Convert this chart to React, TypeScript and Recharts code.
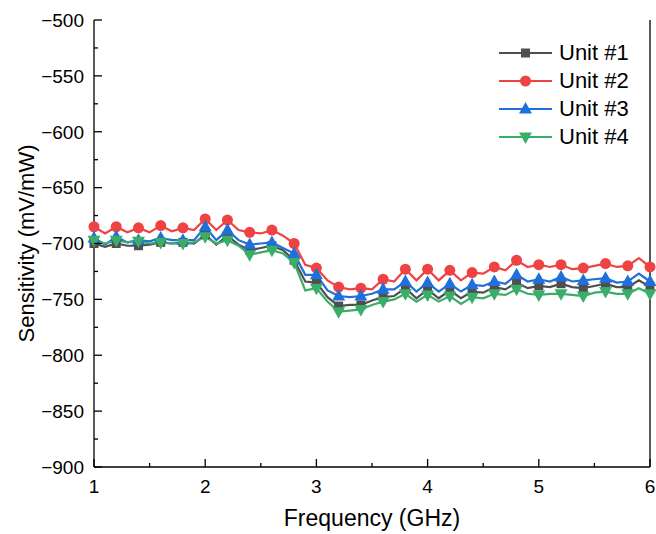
import React from 'react';
import { LineChart, Line, XAxis, YAxis, Legend, Label } from 'recharts';

const freq = [
  1.0, 1.1, 1.2, 1.3, 1.4, 1.5, 1.6, 1.7, 1.8, 1.9,
  2.0, 2.1, 2.2, 2.3, 2.4, 2.5, 2.6, 2.7, 2.8, 2.9,
  3.0, 3.1, 3.2, 3.3, 3.4, 3.5, 3.6, 3.7, 3.8, 3.9,
  4.0, 4.1, 4.2, 4.3, 4.4, 4.5, 4.6, 4.7, 4.8, 4.9,
  5.0, 5.1, 5.2, 5.3, 5.4, 5.5, 5.6, 5.7, 5.8, 5.9, 6.0,
];

const unit1 = [
  -700, -703, -700, -702, -702, -701, -699, -700, -699, -700,
  -692, -701, -693, -701, -706, -704, -702, -706, -715, -734,
  -735, -748, -756, -755, -755, -751, -748, -747, -740, -749,
  -741, -749, -742, -749, -743, -744, -739, -741, -735, -740,
  -738, -739, -736, -739, -740, -738, -736, -739, -739, -733, -739,
];

const unit2 = [
  -685, -691, -685, -690, -686, -690, -684, -689, -686, -688,
  -678, -688, -679, -688, -690, -691, -688, -693, -700, -719,
  -722, -733, -739, -741, -740, -741, -732, -734, -723, -733,
  -723, -733, -724, -733, -726, -727, -721, -724, -715, -721,
  -719, -721, -719, -723, -722, -720, -718, -721, -720, -713, -721,
];

const unit3 = [
  -695, -701, -694, -699, -697, -698, -695, -697, -697, -697,
  -685, -697, -688, -697, -701, -700, -699, -704, -709, -728,
  -728, -742, -747, -748, -747, -745, -741, -741, -734, -743,
  -735, -743, -736, -743, -737, -738, -734, -736, -728, -734,
  -732, -734, -730, -734, -733, -732, -731, -735, -734, -727, -734,
];

const unit4 = [
  -697, -700, -697, -699, -698, -700, -699, -700, -700, -699,
  -694, -700, -697, -702, -710, -708, -706, -709, -717, -742,
  -740, -752, -761, -760, -759, -755, -752, -750, -745, -752,
  -746, -752, -747, -754, -748, -749, -745, -746, -741, -745,
  -746, -745, -745, -746, -747, -744, -743, -745, -745, -740, -745,
];

const xTicks = [1, 1.5, 2, 2.5, 3, 3.5, 4, 4.5, 5, 5.5, 6];
const yTicks = [
  -900, -875, -850, -825, -800, -775, -750, -725, -700,
  -675, -650, -625, -600, -575, -550, -525, -500,
];

const series = [
  { key: 'u1', name: 'Unit #1', color: '#4f4f4f', shape: 'square' },
  { key: 'u2', name: 'Unit #2', color: '#ef4343', shape: 'circle' },
  { key: 'u3', name: 'Unit #3', color: '#1f6fdc', shape: 'up' },
  { key: 'u4', name: 'Unit #4', color: '#3aad69', shape: 'down' },
];

const data = freq.map((f, i) => ({ f, u1: unit1[i], u2: unit2[i], u3: unit3[i], u4: unit4[i] }));

const FONT = '"Liberation Sans", Arial, sans-serif';
const MAJOR = 8;
const MINOR = 4;

const fmt = (v: number) => (v < 0 ? '\u2212' + Math.abs(v) : String(v));

const Marker = ({ shape, cx, cy, color }: any) => {
  if (shape === 'square') return <rect x={cx - 4.5} y={cy - 4.5} width={9} height={9} fill={color} />;
  if (shape === 'circle') return <circle cx={cx} cy={cy} r={5.5} fill={color} />;
  if (shape === 'up')
    return <polygon points={`${cx},${cy - 7} ${cx - 6.5},${cy + 4.5} ${cx + 6.5},${cy + 4.5}`} fill={color} />;
  return <polygon points={`${cx},${cy + 7} ${cx - 6.5},${cy - 4.5} ${cx + 6.5},${cy - 4.5}`} fill={color} />;
};

const makeDot = (shape: string, color: string) => (p: any) => {
  if (p.index % 2 !== 0 || p.cx == null) return <g key={`d-${p.index}`} />;
  return (
    <g key={`d-${p.index}`}>
      <Marker shape={shape} cx={p.cx} cy={p.cy} color={color} />
    </g>
  );
};

const BottomTick = ({ x, y, payload }: any) => {
  const major = Number.isInteger(payload.value);
  return (
    <g>
      <line x1={x} x2={x} y1={y} y2={y - (major ? MAJOR : MINOR)} stroke="#000" strokeWidth={1.3} />
      {major && (
        <text x={x} y={y + 26} textAnchor="middle" fontSize={19} fontFamily={FONT} fill="#000">
          {payload.value}
        </text>
      )}
    </g>
  );
};

const TopTick = ({ x, y, payload }: any) => {
  const major = Number.isInteger(payload.value);
  return <line x1={x} x2={x} y1={y} y2={y + (major ? MAJOR : MINOR)} stroke="#000" strokeWidth={1.3} />;
};

const LeftTick = ({ x, y, payload }: any) => {
  const major = payload.value % 50 === 0;
  return (
    <g>
      <line x1={x} x2={x + (major ? MAJOR : MINOR)} y1={y} y2={y} stroke="#000" strokeWidth={1.3} />
      {major && (
        <text x={x - 10} y={y} dy="0.36em" textAnchor="end" fontSize={19} fontFamily={FONT} fill="#000">
          {fmt(payload.value)}
        </text>
      )}
    </g>
  );
};

const RightTick = ({ x, y, payload }: any) => {
  const major = payload.value % 50 === 0;
  return <line x1={x} x2={x - (major ? MAJOR : MINOR)} y1={y} y2={y} stroke="#000" strokeWidth={1.3} />;
};

const LegendBox = ({ payload }: any) => (
  <div style={{ fontFamily: FONT, fontSize: 22, lineHeight: '28px' }}>
    {(payload || []).map((entry: any) => {
      const s = series.find((q) => q.key === entry.dataKey);
      if (!s) return null;
      return (
        <div key={s.key} style={{ display: 'flex', alignItems: 'center', height: 28 }}>
          <svg width={60} height={28}>
            <line x1={2} x2={55} y1={14} y2={14} stroke={s.color} strokeWidth={2} />
            <Marker shape={s.shape} cx={28.5} cy={14} color={s.color} />
          </svg>
          <span style={{ color: '#000', marginLeft: 2 }}>{s.name}</span>
        </div>
      );
    })}
  </div>
);

export default function App() {
  return (
    <div style={{ width: 656, height: 534, background: '#fff' }}>
      <style>{`body{margin:0}`}</style>
      <LineChart width={656} height={534} data={data} margin={{ top: 20, right: 0, bottom: 0, left: 0 }}>
        <XAxis
          xAxisId="bottom"
          dataKey="f"
          type="number"
          domain={[1, 6]}
          ticks={xTicks}
          interval={0}
          height={67}
          tickSize={0}
          tickMargin={0}
          tickLine={false}
          tick={<BottomTick />}
          axisLine={{ stroke: '#000', strokeWidth: 1.3 }}
        >
          <Label
            value="Frequency (GHz)"
            position="insideBottom"
            offset={8}
            style={{ fontFamily: FONT, fontSize: 23, fill: '#000' }}
          />
        </XAxis>
        <XAxis
          xAxisId="top"
          orientation="top"
          dataKey="f"
          type="number"
          domain={[1, 6]}
          ticks={xTicks}
          interval={0}
          height={0}
          tickSize={0}
          tickMargin={0}
          tickLine={false}
          tick={<TopTick />}
          axisLine={{ stroke: '#000', strokeWidth: 1.3 }}
        />
        <YAxis
          yAxisId="left"
          type="number"
          domain={[-900, -500]}
          ticks={yTicks}
          interval={0}
          width={94}
          tickSize={0}
          tickMargin={0}
          tickLine={false}
          tick={<LeftTick />}
          axisLine={{ stroke: '#000', strokeWidth: 1.3 }}
        >
          <Label
            value="Sensitivity (mV/mW)"
            angle={-90}
            position="insideLeft"
            offset={26}
            style={{ fontFamily: FONT, fontSize: 22, fill: '#000', textAnchor: 'middle' }}
          />
        </YAxis>
        <YAxis
          yAxisId="right"
          orientation="right"
          type="number"
          domain={[-900, -500]}
          ticks={yTicks}
          interval={0}
          width={6}
          tickSize={0}
          tickMargin={0}
          tickLine={false}
          tick={<RightTick />}
          axisLine={{ stroke: '#000', strokeWidth: 1.3 }}
        />
        <Legend
          layout="vertical"
          verticalAlign="middle"
          align="center"
          content={<LegendBox />}
          wrapperStyle={{ position: 'absolute', left: 497, top: 39, width: 156 }}
        />
        {series.map((s) => (
          <Line
            key={s.key}
            xAxisId="bottom"
            yAxisId="left"
            dataKey={s.key}
            name={s.name}
            type="linear"
            stroke={s.color}
            strokeWidth={2.2}
            dot={makeDot(s.shape, s.color)}
            activeDot={false}
            isAnimationActive={false}
          />
        ))}
      </LineChart>
    </div>
  );
}
